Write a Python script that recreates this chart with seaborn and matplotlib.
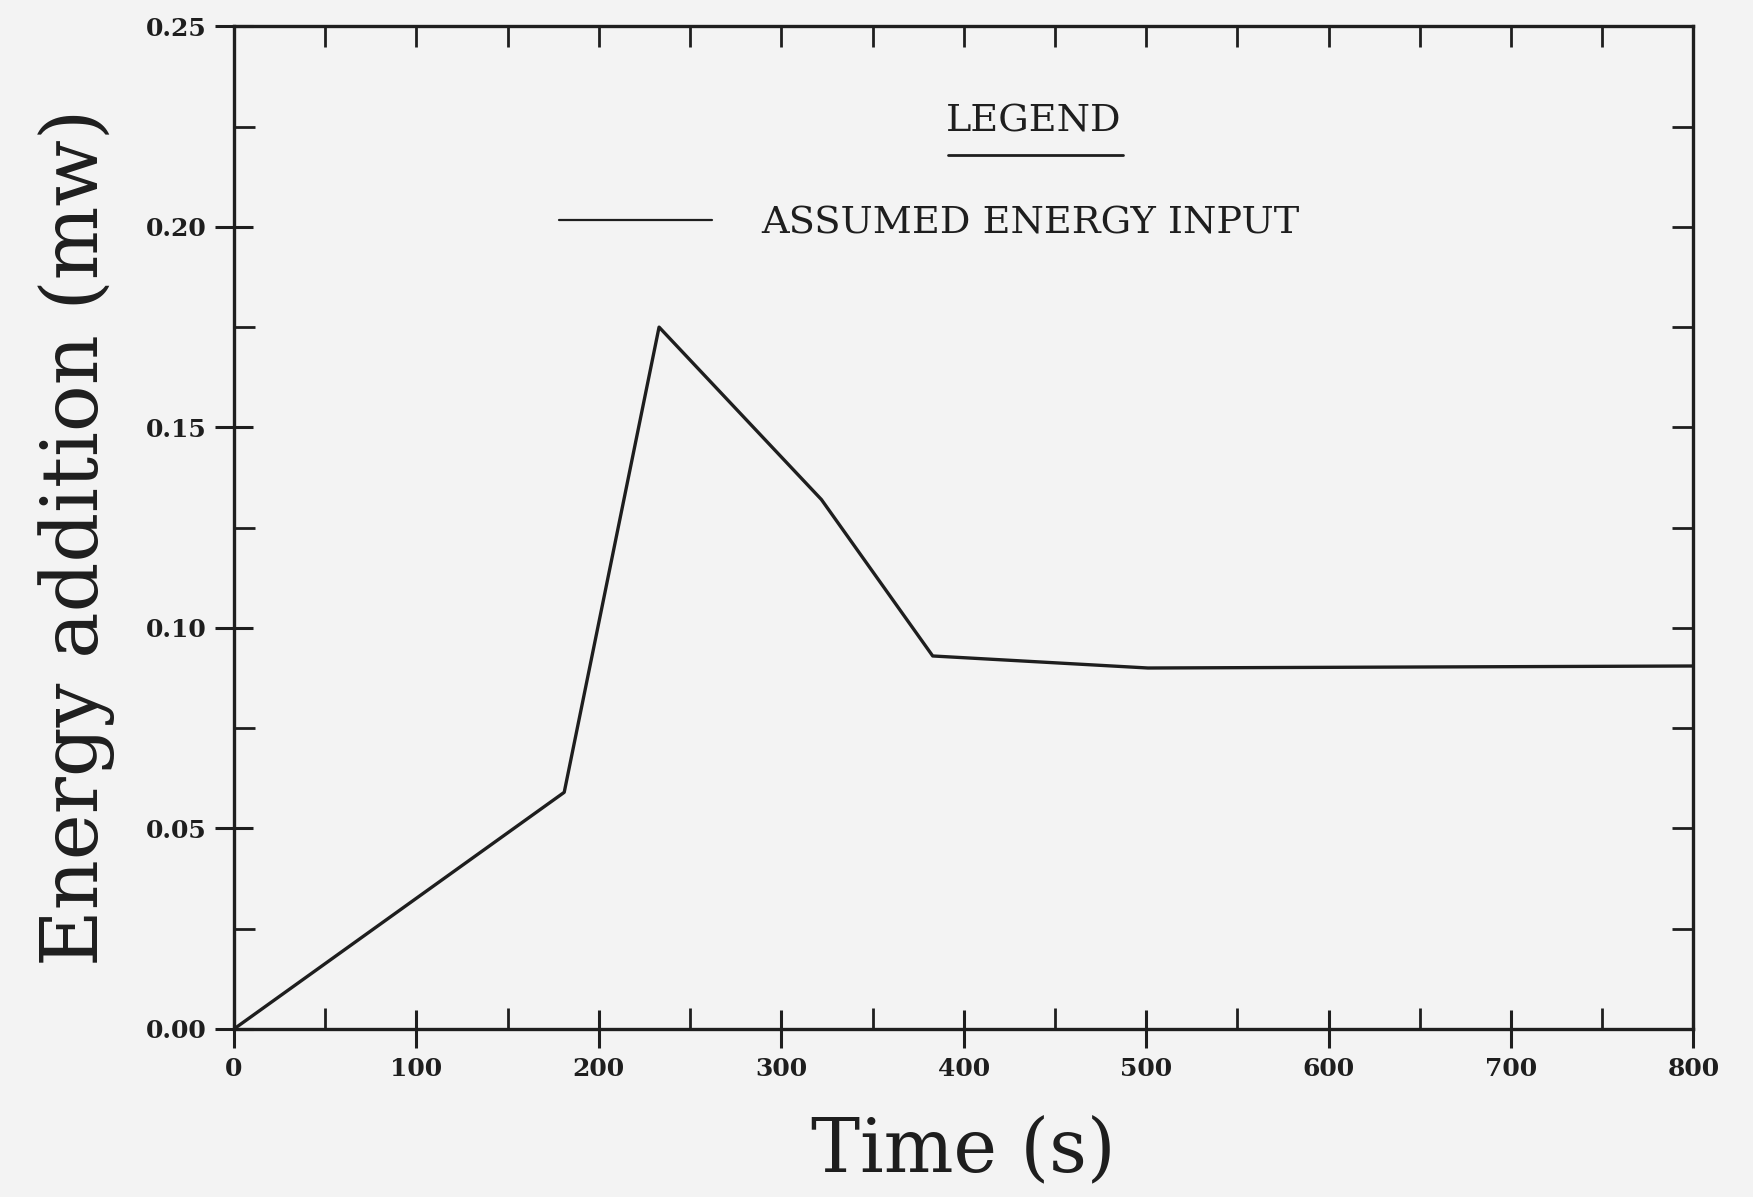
import matplotlib
matplotlib.use("Agg")
import matplotlib.pyplot as plt
import seaborn as sns
import pandas as pd
import numpy as np

# Data
time_s = [0, 181, 233, 322, 383, 501, 800]
energy_mw = [0.0, 0.059, 0.175, 0.132, 0.093, 0.090, 0.0905]
series_label = "ASSUMED ENERGY INPUT"
x_ticks = [0, 100, 200, 300, 400, 500, 600, 700, 800]
y_ticks = [0.00, 0.05, 0.10, 0.15, 0.20, 0.25]

df = pd.DataFrame({"Time (s)": time_s, "Energy": energy_mw})

sns.set_style("white")
plt.rcParams["font.family"] = ["DejaVu Serif", "DejaVu Sans"]

bg = "#f3f3f3"
ink = "#1e1e1e"

fig = plt.figure(figsize=(17.53, 11.97), dpi=100, facecolor=bg)
ax = fig.add_axes([0.1335, 0.1404, 0.8325, 0.8376])
ax.set_facecolor(bg)

sns.lineplot(data=df, x="Time (s)", y="Energy", ax=ax, color=ink,
             linewidth=2.4, label=series_label)

ax.set_xlim(0, 800)
ax.set_ylim(0, 0.25)
ax.set_xticks(x_ticks)
ax.set_xticklabels([str(v) for v in x_ticks])
ax.set_yticks(y_ticks)
ax.set_yticklabels([f"{v:.2f}" for v in y_ticks])
ax.set_xticks(np.arange(50, 800, 100), minor=True)
ax.set_yticks(np.arange(0.025, 0.25, 0.05), minor=True)

for s in ax.spines.values():
    s.set_color(ink)
    s.set_linewidth(2.4)

ax.tick_params(axis="both", which="both", bottom=True, left=True, top=False, right=False)
ax.tick_params(axis="both", which="major", direction="inout", length=28,
               width=2.2, color=ink, labelsize=18, labelcolor=ink, pad=6)
ax.tick_params(axis="both", which="minor", direction="in", length=15,
               width=2.0, color=ink)
for lab in ax.get_xticklabels() + ax.get_yticklabels():
    lab.set_fontweight("bold")

# top and right inward ticks
top = ax.secondary_xaxis("top")
top.set_xticks(np.arange(50, 800, 50))
top.tick_params(direction="in", length=15, width=2.0, color=ink, labeltop=False, top=True)
top.spines["top"].set_visible(False)
right = ax.secondary_yaxis("right")
right.set_yticks(np.arange(0.025, 0.25, 0.025))
right.tick_params(direction="in", length=15, width=2.0, color=ink, labelright=False, right=True)
right.spines["right"].set_visible(False)

ax.set_xlabel("Time (s)", fontsize=53, color=ink, va="center")
ax.set_ylabel("Energy addition (mw)", fontsize=56, color=ink, va="center")
ax.xaxis.set_label_coords(0.5, -0.122)
ax.yaxis.set_label_coords(-0.108, 0.49)

# Legend
leg = ax.legend(loc="center left", bbox_to_anchor=(0.2226, 0.803), frameon=False,
                fontsize=27.5, handlelength=4.0, handletextpad=1.3,
                borderpad=0, borderaxespad=0)
for t in leg.get_texts():
    t.set_color(ink)
for h in leg.get_lines():
    h.set_linewidth(1.6)

ax.text(0.548, 0.905, "LEGEND", transform=ax.transAxes, ha="center", va="center",
        fontsize=27.5, color=ink)
ax.plot([0.489, 0.609], [0.872, 0.872], transform=ax.transAxes, color=ink,
        linewidth=2.0, clip_on=False)

fig.savefig("out.png", dpi=100, facecolor=bg)
